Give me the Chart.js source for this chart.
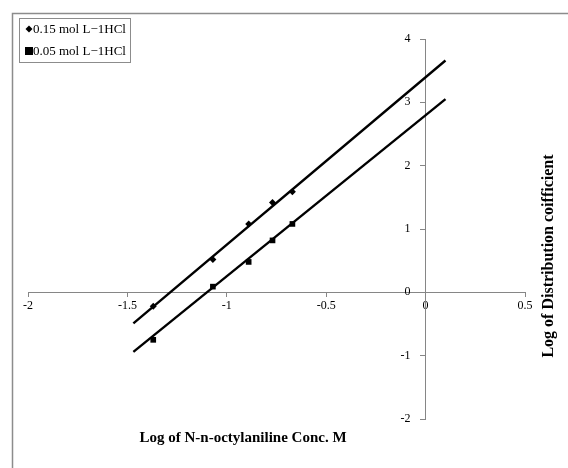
<!DOCTYPE html>
<html>
<head>
<meta charset="utf-8">
<script src="https://cdn.jsdelivr.net/npm/chart.js@4/dist/chart.umd.min.js"></script>
<style>
  html, body { margin: 0; padding: 0; background: #fff; }
  canvas { display: block; }
</style>
</head>
<body>
<canvas id="chart" width="568" height="468"></canvas>
<script>
// values
const seriesLabels = ["0.15 mol L\u22121HCl", "0.05 mol L\u22121HCl"];
const logConc = [-1.37, -1.07, -0.89, -0.77, -0.67];
const logD015 = [-0.22, 0.52, 1.08, 1.42, 1.59];
const logD005 = [-0.75, 0.09, 0.48, 0.82, 1.08];
// trend line ends (x, y) as drawn in the picture
const trendX = [-1.47, 0.1];
const trend015 = [-0.49, 3.66];
const trend005 = [-0.94, 3.05];
const xTitle = "Log of N-n-octylaniline Conc. M";
const yTitle = "Log of Distribution coifficient";

const SERIF = "'Liberation Serif', 'Times New Roman', serif";
const AXIS = "#868686";

const pts = (xs, ys) => xs.map((x, i) => ({ x, y: ys[i] }));

/* ---------- frame, titles, legend ---------- */
const decor = {
  id: "decor",
  beforeDraw(chart) {
    const { ctx } = chart;
    ctx.save();
    ctx.strokeStyle = "#8c8c8c";
    ctx.lineWidth = 1.5;
    ctx.strokeRect(12.5, 13.5, 600, 500);
    ctx.restore();
  },
  afterDraw(chart) {
    const { ctx } = chart;
    ctx.save();
    ctx.fillStyle = "#000";
    ctx.textAlign = "center";
    ctx.textBaseline = "middle";
    ctx.font = `bold 15px ${SERIF}`;
    ctx.fillText(xTitle, 243, 438);
    ctx.font = `bold 16px ${SERIF}`;
    ctx.translate(549, 256);
    ctx.rotate(-Math.PI / 2);
    ctx.fillText(yTitle, 0, 0);
    ctx.restore();

    // legend box
    ctx.save();
    ctx.strokeStyle = "#8c8c8c";
    ctx.lineWidth = 1;
    ctx.strokeRect(19.5, 18.5, 111, 44);
    ctx.font = `13px ${SERIF}`;
    ctx.textBaseline = "middle";
    ctx.textAlign = "left";
    const markers = chart.data.datasets.filter(d => d.label);
    markers.forEach((d, i) => {
      const y = 29 + i * 22;
      ctx.fillStyle = "#000";
      if (d.pointStyle === "rectRot") {
        ctx.beginPath();
        ctx.moveTo(29, y - 3.5); ctx.lineTo(32.5, y); ctx.lineTo(29, y + 3.5); ctx.lineTo(25.5, y);
        ctx.closePath(); ctx.fill();
      } else {
        ctx.fillRect(25, y - 4, 8, 8);
      }
      ctx.fillText(d.label, 33, y + 1);
    });
    ctx.restore();
  }
};

new Chart(document.getElementById("chart"), {
  type: "scatter",
  data: {
    datasets: [
      { data: pts(trendX, trend015), showLine: true, borderColor: "#000", borderWidth: 2.4, pointRadius: 0 },
      { data: pts(trendX, trend005), showLine: true, borderColor: "#000", borderWidth: 2.4, pointRadius: 0 },
      { label: seriesLabels[0], data: pts(logConc, logD015), pointStyle: "rectRot", pointRadius: 3.5,
        backgroundColor: "#000", borderColor: "#000", borderWidth: 0 },
      { label: seriesLabels[1], data: pts(logConc, logD005), pointStyle: "rect", pointRadius: 4,
        backgroundColor: "#000", borderColor: "#000", borderWidth: 0 }
    ]
  },
  options: {
    responsive: false,
    animation: false,
    layout: { padding: { left: 28, top: 39, right: 43, bottom: 49 } },
    plugins: { legend: { display: false }, tooltip: { enabled: false } },
    scales: {
      x: {
        type: "linear", min: -2, max: 0.5,
        position: { y: 0 },
        border: { color: AXIS, width: 1 },
        grid: { drawOnChartArea: false, color: AXIS, tickLength: 4 },
        ticks: { stepSize: 0.5, color: "#000", padding: 2, font: { family: SERIF, size: 12 },
          callback: v => String(v) }
      },
      y: {
        type: "linear", min: -2, max: 4,
        position: { x: 0 },
        border: { color: AXIS, width: 1 },
        grid: { drawOnChartArea: false, color: AXIS, tickLength: 5 },
        // labels of a value-positioned axis sit right on the line; pad with spaces
        ticks: { stepSize: 1, color: "#000", font: { family: SERIF, size: 12 },
          callback: v => String(v) + "     " }
      }
    }
  },
  plugins: [decor]
});
</script>
</body>
</html>
